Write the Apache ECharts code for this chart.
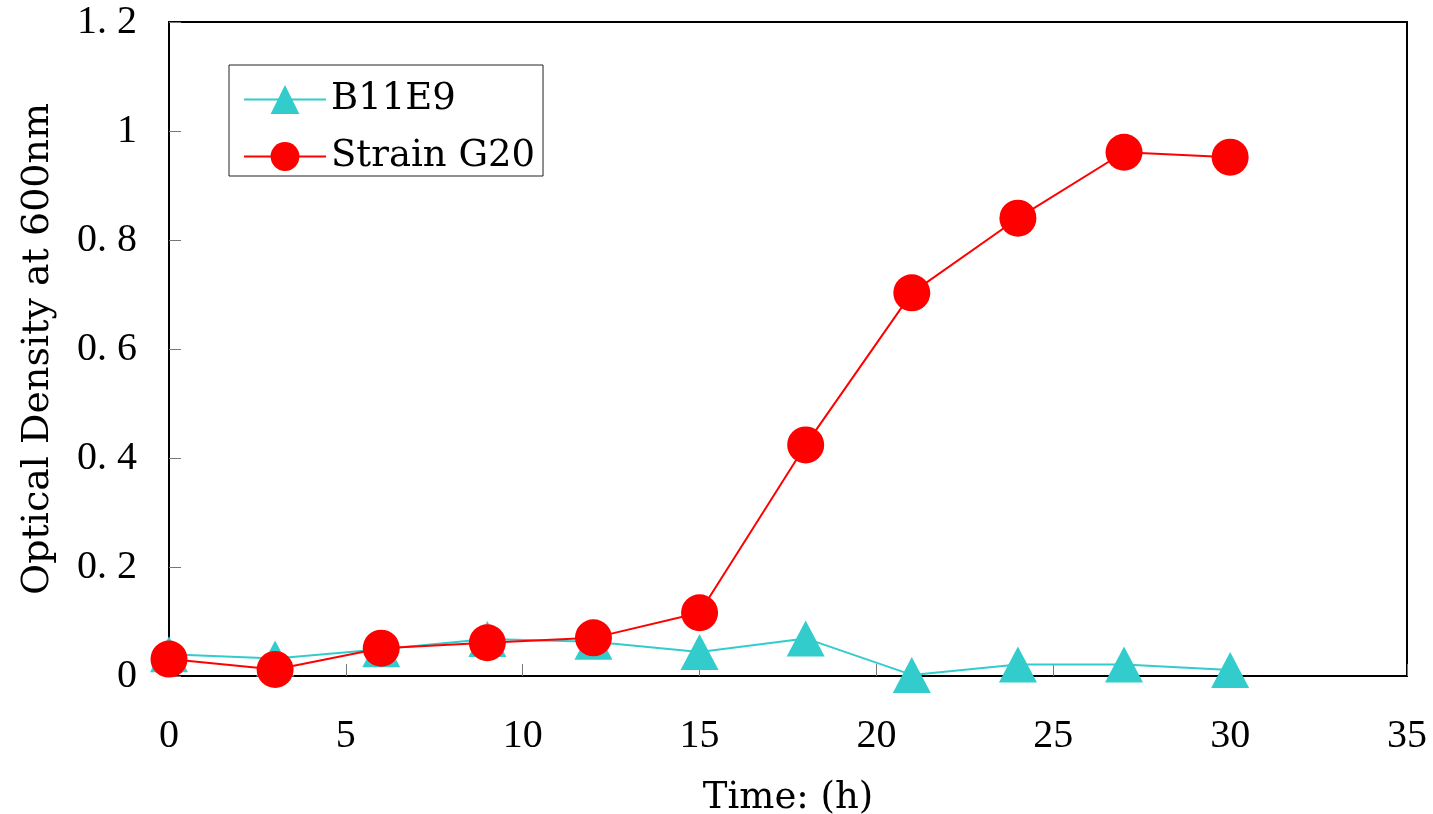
<!DOCTYPE html>
<html>
<head>
<meta charset="utf-8">
<script src="https://cdn.jsdelivr.net/npm/echarts@6/dist/echarts.min.js"></script>
<style>html,body{margin:0;padding:0;background:#fff;}#c{width:1433px;height:814px;}</style>
</head>
<body>
<div id="c"></div>
<script>
const times = [0, 3, 6, 9, 12, 15, 18, 21, 24, 27, 30];
const b11e9 = [0.040, 0.032, 0.049, 0.068, 0.063, 0.044, 0.069, 0.002, 0.021, 0.021, 0.011];
const g20 = [0.031, 0.012, 0.051, 0.061, 0.070, 0.116, 0.424, 0.703, 0.840, 0.961, 0.952];
const seriesNames = ['B11E9', 'Strain G20'];
const xLabel = 'Time: (h)';
const yLabel = 'Optical Density at 600nm';

const FONT = '"Liberation Serif", "DejaVu Serif", serif';
const NAMEFONT = '"DejaVu Serif", "Liberation Serif", serif';
const chart = echarts.init(document.getElementById('c'));
function fmtY(v) {
  const r = Math.round(v * 10) / 10;
  return String(r).replace('.', '. ');
}
chart.setOption({
  animation: false,
  backgroundColor: '#fff',
  textStyle: { fontFamily: FONT, color: '#000' },
  grid: { left: 169, right: 26, top: 22, bottom: 138, outerBoundsMode: 'none', containLabel: false, show: true, borderColor: '#000', borderWidth: 2, backgroundColor: 'transparent' },
  legend: {
    left: 229, top: 65, orient: 'vertical',
    backgroundColor: '#fff',
    borderColor: '#222', borderWidth: 1,
    padding: [16, 8, 1, 14],
    itemWidth: 82, itemHeight: 36, itemGap: 20,
    textStyle: { fontFamily: NAMEFONT, fontSize: 37, color: '#000' },
    data: seriesNames
  },
  xAxis: {
    type: 'value', min: 0, max: 35, interval: 5,
    name: xLabel, nameLocation: 'middle', nameGap: 104,
    nameTextStyle: { fontFamily: NAMEFONT, fontSize: 37, color: '#000' },
    axisLine: { show: true, onZero: false, lineStyle: { color: '#000', width: 2 } },
    axisTick: { show: true, inside: true, length: 12, lineStyle: { color: '#777', width: 1 } },
    axisLabel: { fontFamily: FONT, fontSize: 40, color: '#000', margin: 40 },
    splitLine: { show: false }
  },
  yAxis: {
    type: 'value', min: 0, max: 1.2, interval: 0.2,
    name: yLabel, nameLocation: 'middle', nameGap: 112, nameRotate: 90,
    nameTextStyle: { fontFamily: NAMEFONT, fontSize: 38, color: '#000' },
    axisLine: { show: true, lineStyle: { color: '#000', width: 2 } },
    axisTick: { show: true, inside: true, length: 12, lineStyle: { color: '#777', width: 1 } },
    axisLabel: { fontFamily: FONT, fontSize: 40, color: '#000', margin: 32, formatter: fmtY },
    splitLine: { show: false }
  },
  series: [
    {
      name: seriesNames[0], type: 'line',
      data: times.map((t, i) => [t, b11e9[i]]),
      symbol: 'triangle', symbolSize: [38, 36],
      lineStyle: { color: '#33CCCC', width: 2 },
      itemStyle: { color: '#33CCCC' },
      z: 2
    },
    {
      name: seriesNames[1], type: 'line',
      data: times.map((t, i) => [t, g20[i]]),
      symbol: 'circle', symbolSize: 37,
      lineStyle: { color: '#FF0000', width: 2 },
      itemStyle: { color: '#FF0000' },
      z: 3
    }
  ]
});
</script>
</body>
</html>
